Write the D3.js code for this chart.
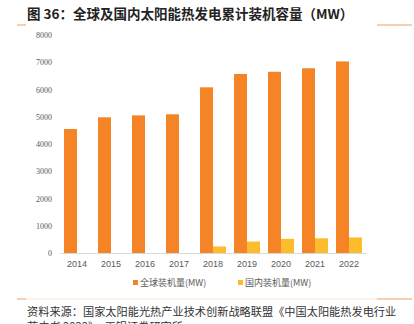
<!DOCTYPE html>
<html>
<head>
<meta charset="utf-8">
<script src="https://cdn.jsdelivr.net/npm/d3@7"></script>
<style>
  html, body { margin: 0; padding: 0; background: #fff; }
  svg { display: block; font-family: "Noto Sans CJK SC", "Noto Sans", sans-serif; }
</style>
</head>
<body>
<div id="chart"></div>
<script>
const years = ["2014", "2015", "2016", "2017", "2018", "2019", "2020", "2021", "2022"];
const globalMW = [4550, 4980, 5050, 5090, 6080, 6570, 6650, 6780, 7030];
const chinaMW = [0, 0, 0, 0, 240, 420, 520, 540, 570];
const yTicks = [0, 1000, 2000, 3000, 4000, 5000, 6000, 7000, 8000];
const seriesNames = ["全球装机量(MW)", "国内装机量(MW)"];
const colors = ["#F58426", "#FCBC2C"];

const width = 414, height = 324;
const margin = { top: 35, right: 48, bottom: 71, left: 60 };

const svg = d3.select("#chart").append("svg")
  .attr("width", width)
  .attr("height", height);

// title + decorative lines
svg.append("text")
  .attr("x", 27).attr("y", 19)
  .attr("font-size", 13.5).attr("font-weight", "bold").attr("fill", "#222")
  .text("图 36：全球及国内太阳能热发电累计装机容量（MW）");

[25, 299].forEach(y => {
  svg.append("line").attr("x1", 17).attr("x2", 26).attr("y1", y).attr("y2", y)
    .attr("stroke", "#F0A060").attr("stroke-width", 1);
  svg.append("line").attr("x1", 377).attr("x2", 412).attr("y1", y).attr("y2", y)
    .attr("stroke", "#F0A060").attr("stroke-width", 1);
});
svg.append("line").attr("x1", 26).attr("x2", 377).attr("y1", 299).attr("y2", 299)
  .attr("stroke", "#FBE6D6").attr("stroke-width", 1);

const x = d3.scaleBand().domain(years).range([margin.left, width - margin.right]);
const y = d3.scaleLinear().domain([0, 8000]).range([height - margin.bottom, margin.top]);
const barW = 13;

const g = svg.append("g");

g.selectAll(".g-bar").data(years).join("rect")
  .attr("x", (d) => x(d) + x.bandwidth() / 2 - barW)
  .attr("y", (d, i) => y(globalMW[i]))
  .attr("width", barW)
  .attr("height", (d, i) => y(0) - y(globalMW[i]))
  .attr("fill", colors[0]);

g.selectAll(".c-bar").data(years).join("rect")
  .attr("x", (d) => x(d) + x.bandwidth() / 2)
  .attr("y", (d, i) => y(chinaMW[i]))
  .attr("width", barW)
  .attr("height", (d, i) => y(0) - y(chinaMW[i]))
  .attr("fill", colors[1]);

// axes
const xAxis = d3.axisBottom(x).tickSize(0).tickPadding(8);
const xg = svg.append("g")
  .attr("transform", `translate(0,${y(0)})`)
  .call(xAxis);
xg.select(".domain").attr("stroke", "#D9D9D9");
xg.selectAll("text").attr("font-size", 9).attr("fill", "#595959")
  .attr("font-family", "Liberation Sans, sans-serif");

const yAxis = d3.axisLeft(y).tickValues(yTicks).tickFormat(d3.format("d")).tickSize(0).tickPadding(8);
const yg = svg.append("g")
  .attr("transform", `translate(${margin.left},0)`)
  .call(yAxis);
yg.select(".domain").remove();
yg.selectAll("text").attr("font-size", 8).attr("fill", "#595959")
  .attr("font-family", "Liberation Serif, serif");

// legend
const legendX = [133, 238];
seriesNames.forEach((name, i) => {
  svg.append("rect").attr("x", legendX[i]).attr("y", 280).attr("width", 5).attr("height", 5)
    .attr("fill", colors[i]);
  svg.append("text").attr("x", legendX[i] + 7).attr("y", 286)
    .attr("font-size", 9).attr("fill", "#595959").text(name);
});

// source
svg.append("text").attr("x", 27).attr("y", 316)
  .attr("font-size", 11.2).attr("fill", "#333")
  .text("资料来源：国家太阳能光热产业技术创新战略联盟《中国太阳能热发电行业");
svg.append("text").attr("x", 27).attr("y", 331)
  .attr("font-size", 11.2).attr("fill", "#333")
  .text("蓝皮书 2022》，工银证券研究所");
</script>
</body>
</html>
